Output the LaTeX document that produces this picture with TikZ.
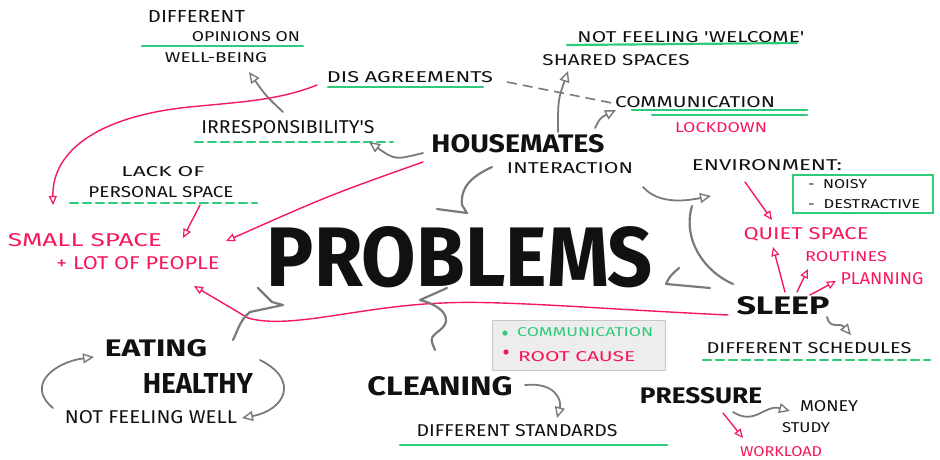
\documentclass[tikz,border=0pt]{standalone}
\usepackage{fontspec}
\setmainfont{Fira Sans}
\usetikzlibrary{arrows.meta}

\definecolor{skgreen}{HTML}{2ECC7A}
\definecolor{skred}{HTML}{F5185A}
\definecolor{skgray}{HTML}{7A7A7A}
\definecolor{skink}{HTML}{111111}

% scale a label to an exact width and height (in pt)
\newcommand\skfit[3]{\resizebox{#1pt}{#2pt}{#3}}

\tikzset{
  lbl/.style={inner sep=0pt, text=skink},
  hot/.style={inner sep=0pt, text=skred},
  uline/.style={draw=skgreen, line width=2.2pt, line cap=round},
  dline/.style={uline, dash pattern=on 8pt off 5pt},
  garrow/.style={draw=skgray, line width=1.8pt, line cap=round,
    -{Triangle[open,length=11pt,width=10pt,line width=1.4pt]}},
  rarrow/.style={draw=skred, line width=1.4pt, line cap=round,
    -{Triangle[open,length=9pt,width=8pt,line width=1.2pt]}},
  bubble/.style={draw=skgray, line width=2.2pt, line cap=round, line join=round},
}

\begin{document}
\begin{tikzpicture}[x=1pt,y=-1pt]
\useasboundingbox (0,0) rectangle (940,459);

% ---------- labels ----------
\node[lbl] (dif1) at (196.5,16) {\skfit{97}{12}{DIFFERENT}};
\node[lbl] (dif2) at (246,37) {\skfit{108}{10}{OPINIONS ON}};
\node[lbl] (wb) at (216,58) {\skfit{102}{10}{WELL-BEING}};
\draw[uline] (142,46) -- (303,46);

\node[lbl] (dis) at (410,77) {\skfit{166}{11}{DIS AGREEMENTS}};
\draw[uline] (328,87) -- (483,87);

\node[lbl] (welc) at (691,37) {\skfit{227}{11}{NOT FEELING \textquotesingle WELCOME\textquotesingle}};
\draw[uline] (567,45) -- (797,43);
\node[lbl] (shared) at (616,60) {\skfit{147}{11}{SHARED SPACES}};

\node[lbl] (comm) at (695,102) {\skfit{160}{11}{COMMUNICATION}};
\draw[uline] (632,110) -- (807,110);
\draw[uline] (652,115) -- (807,115);
\node[hot] (lock) at (721,128) {\skfit{92}{10}{LOCKDOWN}};

\node[lbl] (irr) at (288,127) {\skfit{173}{13}{IRRESPONSIBILITY\textquotesingle S}};
\draw[dline] (195,142) -- (393,142);

\node[lbl,font=\bfseries] (house) at (518,144) {\skfit{173}{18}{HOUSEMATES}};
\node[lbl] (inter) at (570,168) {\skfit{126}{11}{INTERACTION}};

\node[lbl] (lack1) at (163,172) {\skfit{83}{10}{LACK OF}};
\node[lbl] (lack2) at (161,192) {\skfit{145}{11}{PERSONAL SPACE}};
\draw[dline] (70,203) -- (257,203);

\node[hot] (small1) at (85,240) {\skfit{154}{13}{SMALL SPACE}};
\node[hot] (small2) at (138,263) {\skfit{163}{13}{+ LOT OF PEOPLE}};

\node[lbl,font=\bfseries] (prob) at (460,257) {\skfit{386}{60}{PROBLEMS}};

\node[lbl] (env) at (767,165) {\skfit{150}{11}{ENVIRONMENT:}};
\draw[draw=skgreen, line width=1.8pt] (793,175) rectangle (933,213);
\node[lbl,anchor=west] (noisy) at (808,184) {\skfit{59}{9}{-\ \ NOISY}};
\node[lbl,anchor=west] (destr) at (808,204) {\skfit{112}{9}{-\ \ DESTRACTIVE}};

\node[hot] (quiet) at (806,234) {\skfit{125}{12}{QUIET SPACE}};
\node[hot] (rout) at (846,257) {\skfit{82}{10}{ROUTINES}};
\node[hot] (plan) at (882,279) {\skfit{83}{12}{PLANNING}};

\node[lbl,font=\bfseries] (sleep) at (783,306) {\skfit{93}{18}{SLEEP}};
\node[lbl] (sched) at (809,348) {\skfit{205}{11}{DIFFERENT SCHEDULES}};
\draw[dline] (703,360) -- (930,360);

% legend
\node[draw=black!22, fill=black!7, line width=1pt, minimum width=173pt,
      minimum height=50pt, inner sep=0pt] (legend) at (578.5,345) {};
\fill[skgreen] (505,333) circle (2.6pt);
\fill[skred] (506,352) circle (2.6pt);
\node[inner sep=0pt, text=skgreen, anchor=west] (lg1) at (517,332) {\skfit{136}{9}{COMMUNICATION}};
\node[hot, anchor=west] (lg2) at (518,357) {\skfit{117}{10}{ROOT CAUSE}};

\node[lbl,font=\bfseries] (eat) at (156,348) {\skfit{102}{17}{EATING}};
\node[lbl,font=\bfseries] (healthy) at (198,383) {\skfit{110}{20}{HEALTHY}};
\node[lbl] (notwell) at (151,417) {\skfit{172}{13}{NOT FEELING WELL}};

\node[lbl,font=\bfseries] (clean) at (440,386) {\skfit{145}{19}{CLEANING}};
\node[lbl] (stand) at (517,431) {\skfit{201}{12}{DIFFERENT STANDARDS}};
\draw[uline] (400,445) -- (667,445);

\node[lbl,font=\bfseries] (press) at (701,396) {\skfit{122}{16}{PRESSURE}};
\node[lbl] (money) at (829,406) {\skfit{58}{11}{MONEY}};
\node[lbl] (study) at (806,428) {\skfit{48}{10}{STUDY}};
\node[hot] (work) at (781,452) {\skfit{82}{10}{WORKLOAD}};

% ---------- connector end points ----------
\coordinate (irrA) at (283,112);   \coordinate (wbA) at (249,72);
\coordinate (houseW) at (423,153); \coordinate (irrE) at (369,142);
\coordinate (houseN) at (558,132); \coordinate (sharedS) at (568,71);
\coordinate (houseNE) at (595,128); \coordinate (commW) at (616,110);
\coordinate (interE) at (643,187); \coordinate (envW) at (711,196);
\coordinate (sleepE) at (827,317); \coordinate (schedN) at (851,335);
\coordinate (cleanE) at (525,385); \coordinate (standN) at (557,418);
\coordinate (pressE) at (733,412); \coordinate (moneyW) at (790,411);
\coordinate (notwellW) at (53,408); \coordinate (eatW) at (94,357);
\coordinate (healthyE) at (260,360); \coordinate (notwellE) at (242,418);
\coordinate (disE) at (507,82); \coordinate (commW2) at (612,103);

\coordinate (disW) at (317,85); \coordinate (smallN) at (53,205);
\coordinate (lackS) at (200,205); \coordinate (smallNE) at (183,238);
\coordinate (houseSW) at (423,162); \coordinate (peopleE) at (226,241);
\coordinate (sleepW) at (728,315); \coordinate (peopleSE) at (194,286);
\coordinate (envS) at (745,182); \coordinate (quietS) at (772,220);
\coordinate (sleepN1) at (785,292); \coordinate (quietS2) at (773,247);
\coordinate (sleepN2) at (797,292); \coordinate (routS) at (808,269);
\coordinate (sleepN3) at (810,295); \coordinate (planW) at (836,281);
\coordinate (pressS) at (723,413); \coordinate (workN) at (743,438);

% ---------- grey connectors ----------
\draw[garrow] (irrA) .. controls (266,96) .. (wbA);
\draw[garrow] (houseW) .. controls (395,160) .. (irrE);
\draw[garrow] (houseN) .. controls (558,100) .. (sharedS);
\draw[garrow] (houseNE) .. controls (600,118) .. (commW);
\draw[garrow] (interE) .. controls (660,206) and (690,200) .. (envW);
\draw[garrow] (sleepE) .. controls (830,330) and (840,322) .. (schedN);
\draw[garrow] (cleanE) .. controls (555,382) and (562,400) .. (standN);
\draw[garrow] (pressE) .. controls (755,426) and (765,404) .. (moneyW);
\draw[garrow] (notwellW) .. controls (25,385) and (55,362) .. (eatW);
\draw[garrow] (healthyE) .. controls (300,380) and (285,410) .. (notwellE);
\draw[draw=skgray, line width=1.6pt, dash pattern=on 10pt off 6pt] (disE) -- (commW2);

% ---------- red connectors ----------
\draw[rarrow] (disW) .. controls (280,100) and (240,102) .. (200,106)
  .. controls (100,114) and (52,150) .. (smallN);
\draw[rarrow] (lackS) -- (smallNE);
\draw[rarrow] (houseSW) .. controls (330,195) .. (peopleE);
\draw[rarrow] (sleepW) .. controls (600,309) and (500,300) .. (443,303)
  .. controls (360,306) and (290,330) .. (248,318) -- (peopleSE);
\draw[rarrow] (envS) -- (quietS);
\draw[rarrow] (sleepN1) -- (quietS2);
\draw[rarrow] (sleepN2) -- (routS);
\draw[rarrow] (sleepN3) -- (planW);
\draw[rarrow] (pressS) -- (workN);

% ---------- speech-bubble marks round the title ----------
\draw[bubble] (437,209) -- (467,213) -- (462,205)
  .. controls (460,185) and (475,175) .. (492,167);
\draw[bubble] (710,288) -- (666,284) .. controls (670,276) .. (679,268);
\draw[bubble] (692,206) .. controls (682,240) and (705,272) .. (733,284);
\draw[bubble] (258,288) .. controls (265,295) .. (272,302) -- (283,305)
  -- (250,312) .. controls (240,320) and (238,330) .. (233,340);
\draw[bubble] (447,288) -- (420,300) .. controls (440,305) and (455,318) .. (440,330)
  .. controls (430,338) .. (435,350);
\end{tikzpicture}
\end{document}
